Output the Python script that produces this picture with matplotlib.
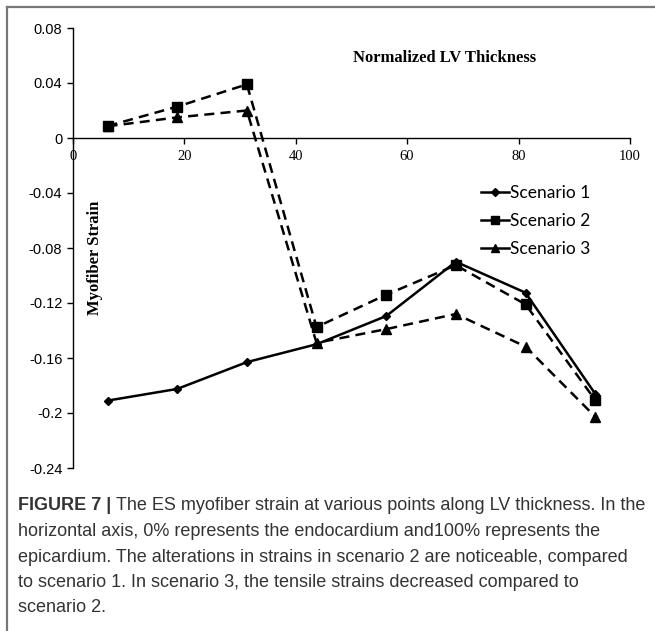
"""Recreate Figure 7: ES myofiber strain along normalized LV thickness."""

from __future__ import annotations

import matplotlib

matplotlib.use("Agg")
import matplotlib.pyplot as plt
from matplotlib.lines import Line2D

THICKNESS = [6.25, 18.75, 31.25, 43.75, 56.25, 68.75, 81.25, 93.75]
SCENARIO_1 = [-0.191, -0.1825, -0.163, -0.150, -0.1295, -0.090, -0.1125, -0.186]
SCENARIO_2 = [0.0087, 0.0228, 0.039, -0.1375, -0.114, -0.0925, -0.121, -0.1905]
SCENARIO_3 = [0.0085, 0.015, 0.020, -0.149, -0.139, -0.128, -0.1517, -0.2027]
SERIES_NAMES = ["Scenario 1", "Scenario 2", "Scenario 3"]

X_TICKS = [0, 20, 40, 60, 80, 100]
Y_TICKS = [-0.24, -0.2, -0.16, -0.12, -0.08, -0.04, 0, 0.04, 0.08]
Y_TICK_LABELS = ["-0.24", "-0.2", "-0.16", "-0.12", "-0.08", "-0.04", "0", "0.04", "0.08"]

CAPTION_LINES = [
    "The ES myofiber strain at various points along LV thickness. In the",
    "horizontal axis, 0% represents the endocardium and100% represents the",
    "epicardium. The alterations in strains in scenario 2 are noticeable, compared",
    "to scenario 1. In scenario 3, the tensile strains decreased compared to",
    "scenario 2.",
]

W_PX, H_PX = 655, 631


def main() -> int:
    fig = plt.figure(figsize=(W_PX / 100, H_PX / 100), dpi=100)
    ax = fig.add_axes([72.7 / W_PX, 1 - 468 / H_PX, (630 - 72.7) / W_PX, (468 - 28) / H_PX])

    styles = [
        dict(linestyle="-", marker="D", markersize=4.5),
        dict(linestyle=(0, (4, 2.5)), marker="s", markersize=6.5),
        dict(linestyle=(0, (4, 2.5)), marker="^", markersize=6.5),
    ]
    for values, name, style in zip([SCENARIO_1, SCENARIO_2, SCENARIO_3], SERIES_NAMES, styles):
        ax.plot(THICKNESS, values, color="black", linewidth=1.8, label=name, **style)

    ax.set_xlim(0, 100)
    ax.set_ylim(-0.24, 0.08)
    ax.spines["top"].set_visible(False)
    ax.spines["right"].set_visible(False)
    ax.spines["bottom"].set_position(("data", 0))
    ax.spines["left"].set_linewidth(1.0)
    ax.spines["bottom"].set_linewidth(1.0)

    ax.set_yticks(Y_TICKS)
    ax.set_yticklabels(Y_TICK_LABELS, fontfamily="Liberation Sans", fontsize=10.5)
    ax.set_xticks(X_TICKS)
    ax.set_xticklabels([str(t) for t in X_TICKS], fontfamily="Liberation Serif", fontsize=10.5)
    ax.tick_params(axis="both", direction="out", length=4, width=1.0)
    ax.tick_params(axis="x", pad=5)

    ax.text(66.8, 0.058, "Normalized LV Thickness", fontfamily="Liberation Serif",
            fontweight="bold", fontsize=12, ha="center", va="center")
    ax.text(4, -0.087, "Myofiber Strain", fontfamily="Liberation Serif",
            fontweight="bold", fontsize=12, ha="center", va="center", rotation=90)

    handles = [
        Line2D([], [], color="black", linewidth=1.8, **styles[0]),
        Line2D([], [], color="black", linewidth=1.8, linestyle="-", marker="s", markersize=5.5),
        Line2D([], [], color="black", linewidth=1.8, linestyle="-", marker="^", markersize=5.5),
    ]
    ax.legend(handles, SERIES_NAMES, loc="upper left", bbox_to_anchor=(0.72, 0.658),
              frameon=False, prop={"family": "Lato", "size": 12.5}, handlelength=1.6,
              handletextpad=0.1, labelspacing=0.68, borderaxespad=0)

    # frame lines at top and left of the figure
    fig.add_artist(Line2D([7 / W_PX, 1], [1 - 6.5 / H_PX] * 2, color="#777777", linewidth=1.6))
    fig.add_artist(Line2D([7 / W_PX] * 2, [0, 1 - 6.5 / H_PX], color="#777777", linewidth=1.6))

    caption_color = "#333333"
    caption_size = 13
    first_y = 1 - 506 / H_PX
    step = 25.5 / H_PX
    head = fig.text(18 / W_PX, first_y, "FIGURE 7 | ", fontfamily="Liberation Sans",
                    fontweight="bold", fontsize=caption_size, color=caption_color, va="center")
    fig.canvas.draw()
    bbox = head.get_window_extent()
    fig.text(bbox.x1 / W_PX, first_y, CAPTION_LINES[0], fontfamily="Liberation Sans",
             fontsize=caption_size, color=caption_color, va="center")
    for i, line in enumerate(CAPTION_LINES[1:], start=1):
        fig.text(18 / W_PX, first_y - i * step, line, fontfamily="Liberation Sans",
                 fontsize=caption_size, color=caption_color, va="center")

    fig.savefig("out.png", dpi=100)
    plt.close(fig)
    return 0


if __name__ == "__main__":
    raise SystemExit(main())
